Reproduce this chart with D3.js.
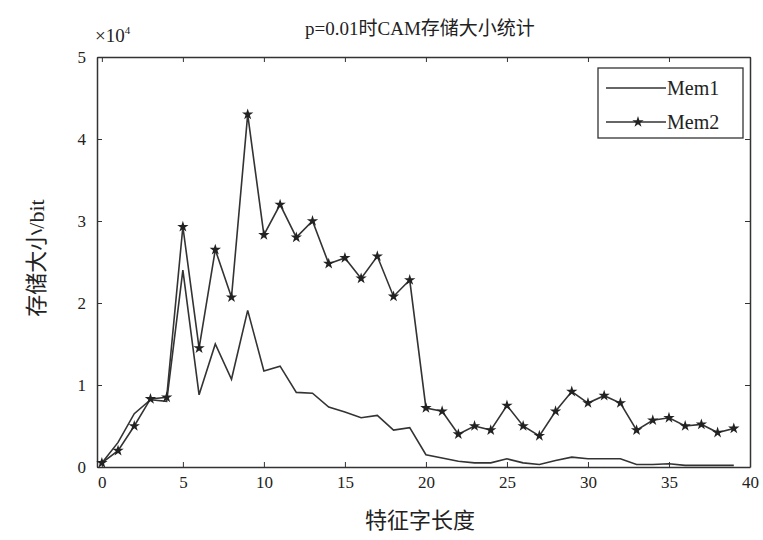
<!DOCTYPE html>
<html lang="zh">
<head>
    <meta charset="UTF-8">
    <title>p=0.01时CAM存储大小统计</title>
    <script src="https://d3js.org/d3.v7.min.js"></script>
    <style>
        body {
            margin: 0;
            background: #fff;
        }

        svg text {
            font-family: "Liberation Serif", "Noto Sans CJK SC", serif;
            fill: #222;
        }
    </style>
</head>
<body>
    <div id="chart"></div>
    <script>
        // values are in units of 10^4 bit
        const wordLength = d3.range(0, 40);
        const mem1 = [0.05, 0.3, 0.65, 0.82, 0.8, 2.4, 0.88, 1.5, 1.07, 1.91,
                      1.17, 1.23, 0.91, 0.9, 0.73, 0.67, 0.6, 0.63, 0.45, 0.48,
                      0.15, 0.11, 0.07, 0.05, 0.05, 0.1, 0.05, 0.03, 0.08, 0.12,
                      0.1, 0.1, 0.1, 0.03, 0.03, 0.04, 0.02, 0.02, 0.02, 0.02];
        const mem2 = [0.05, 0.2, 0.5, 0.83, 0.85, 2.93, 1.45, 2.65, 2.07, 4.3,
                      2.83, 3.2, 2.8, 3.0, 2.48, 2.55, 2.3, 2.57, 2.08, 2.28,
                      0.72, 0.68, 0.4, 0.5, 0.45, 0.75, 0.5, 0.38, 0.68, 0.92,
                      0.78, 0.87, 0.78, 0.45, 0.57, 0.6, 0.5, 0.52, 0.42, 0.47];
        const xTicks = [0, 5, 10, 15, 20, 25, 30, 35, 40];
        const yTicks = [0, 1, 2, 3, 4, 5];
        const seriesNames = ["Mem1", "Mem2"];

        const W = 763, H = 540;
        const margin = { top: 57, right: 13, bottom: 73, left: 97 };
        const width = W - margin.left - margin.right;
        const height = H - margin.top - margin.bottom;

        const svg = d3.select("#chart")
            .append("svg")
            .attr("width", W)
            .attr("height", H);

        const g = svg.append("g")
            .attr("transform", `translate(${margin.left},${margin.top})`);

        const x = d3.scaleLinear().domain([-0.3, 40]).range([0, width]);
        const y = d3.scaleLinear().domain([0, 5]).range([height, 0]);

        const ink = "#333";

        // axes, ticks pointing inwards on every side
        g.append("g")
            .attr("transform", `translate(0,${height})`)
            .call(d3.axisBottom(x).tickValues(xTicks).tickFormat(d3.format("d"))
                .tickSizeInner(-5).tickSizeOuter(0).tickPadding(9))
            .call(a => a.selectAll("text").style("font-size", "17px"));
        g.append("g")
            .call(d3.axisTop(x).tickValues(xTicks).tickSizeInner(-5).tickSizeOuter(0).tickFormat(""));
        g.append("g")
            .call(d3.axisLeft(y).tickValues(yTicks).tickFormat(d3.format("d"))
                .tickSizeInner(-5).tickSizeOuter(0).tickPadding(11))
            .call(a => a.selectAll("text").style("font-size", "17px"));
        g.append("g")
            .attr("transform", `translate(${width},0)`)
            .call(d3.axisRight(y).tickValues(yTicks).tickSizeInner(-5).tickSizeOuter(0).tickFormat(""));

        g.selectAll(".domain").attr("stroke", ink).attr("stroke-width", 1.5);
        g.selectAll(".tick line").attr("stroke", ink);

        const line = d3.line()
            .x((d, i) => x(wordLength[i]))
            .y(d => y(d));

        g.append("path")
            .datum(mem1)
            .attr("fill", "none")
            .attr("stroke", ink)
            .attr("stroke-width", 1.6)
            .attr("d", line);

        g.append("path")
            .datum(mem2)
            .attr("fill", "none")
            .attr("stroke", ink)
            .attr("stroke-width", 1.6)
            .attr("d", line);

        const star = d3.symbol().type(d3.symbolStar).size(40);

        g.selectAll(".m2")
            .data(mem2)
            .enter()
            .append("path")
            .attr("class", "m2")
            .attr("d", star)
            .attr("fill", "#222")
            .attr("transform", (d, i) => `translate(${x(wordLength[i])},${y(d)})`);

        // title and exponent
        svg.append("text")
            .attr("x", 420)
            .attr("y", 35)
            .attr("text-anchor", "middle")
            .style("font-size", "19px")
            .text("p=0.01时CAM存储大小统计");

        const expo = svg.append("text")
            .attr("x", 95)
            .attr("y", 42)
            .style("font-size", "19px");
        expo.append("tspan").text("×10");
        expo.append("tspan").attr("dy", -8).style("font-size", "11px").text("4");

        // axis titles
        svg.append("text")
            .attr("x", 420)
            .attr("y", 528)
            .attr("text-anchor", "middle")
            .style("font-size", "22px")
            .text("特征字长度");

        svg.append("text")
            .attr("transform", "translate(44,258) rotate(-90)")
            .attr("text-anchor", "middle")
            .style("font-size", "22px")
            .text("存储大小/bit");

        // legend
        const lg = svg.append("g").attr("transform", "translate(598,68)");
        lg.append("rect")
            .attr("width", 145)
            .attr("height", 70)
            .attr("fill", "#fff")
            .attr("stroke", ink)
            .attr("stroke-width", 1.3);

        seriesNames.forEach((name, i) => {
            const yy = 20 + i * 34;
            lg.append("line")
                .attr("x1", 8).attr("x2", 68)
                .attr("y1", yy).attr("y2", yy)
                .attr("stroke", ink)
                .attr("stroke-width", 1.6);
            if (i === 1) {
                lg.append("path")
                    .attr("d", star)
                    .attr("fill", "#222")
                    .attr("transform", `translate(40,${yy})`);
            }
            lg.append("text")
                .attr("x", 69)
                .attr("y", yy + 7)
                .style("font-size", "20px")
                .text(name);
        });
    </script>
</body>
</html>
